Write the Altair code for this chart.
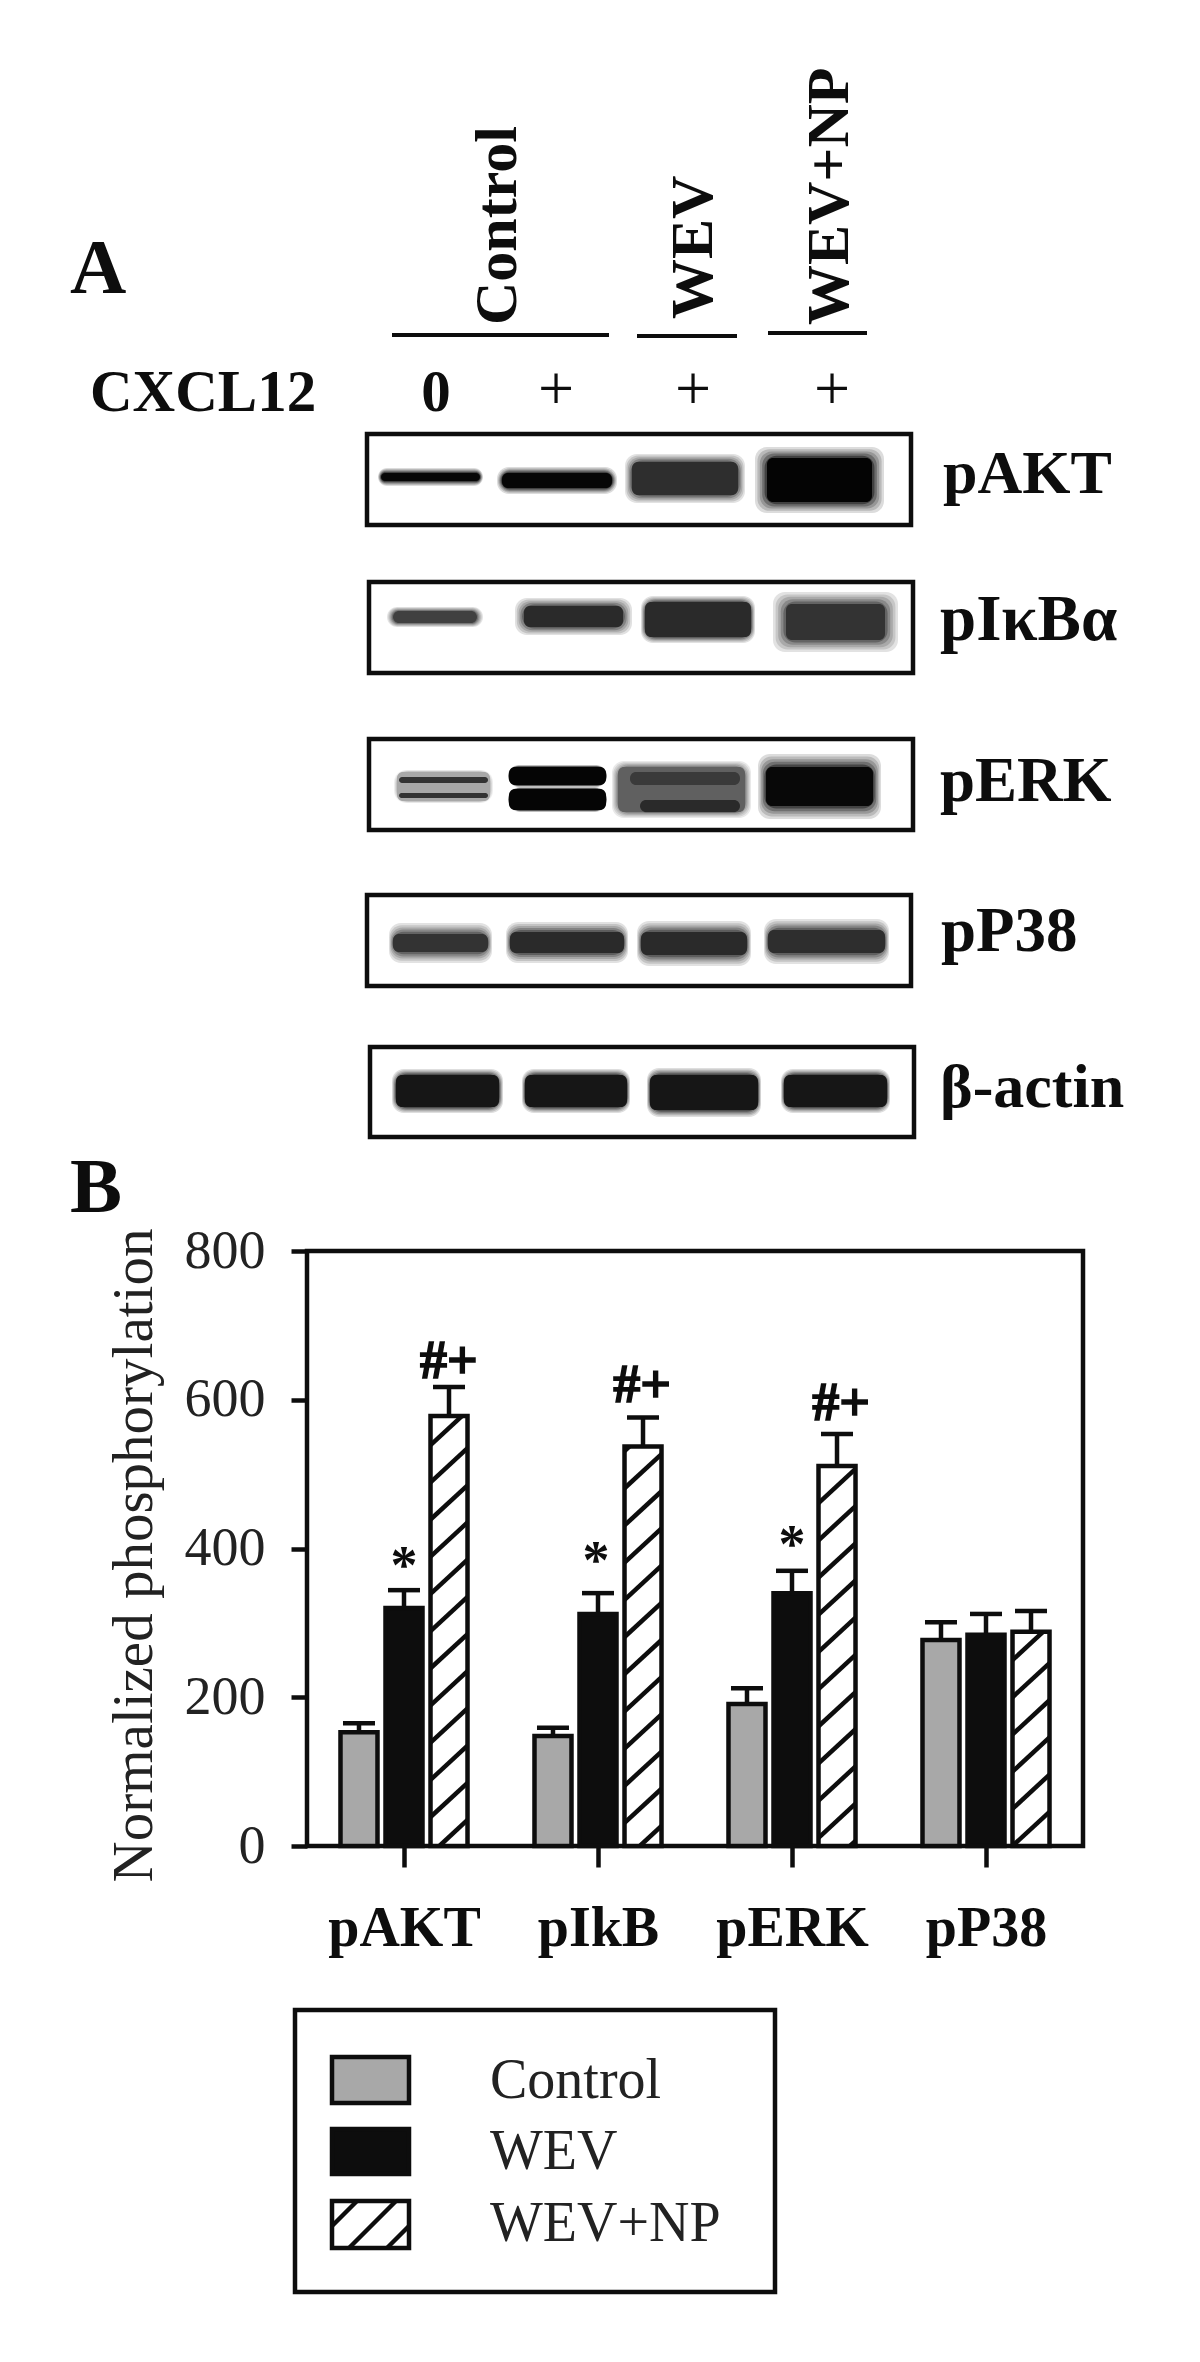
import json
import altair as alt
import pandas as pd

# ---------- panel B values ----------
groups = ["pAKT", "pIkB", "pERK", "pP38"]
series = ["Control", "WEV", "WEV+NP"]
control = [153, 148, 191, 277]
wev = [320, 312, 340, 284]
wev_np = [578, 537, 511, 288]
control_top = [165, 159, 212, 301]
wev_top = [344, 340, 370, 312]
wev_np_top = [617, 576, 554, 316]
hatch_start = [39, 31, 11, 0]
star_pos = [0.50, 1.49, 2.50]
star_y = [354, 361, 382]
mark_pos = [0.732, 1.727, 2.753]
mark_y = [629, 597, 573]

# ---------- panel A / page furniture, in picture pixels ----------
blot_names = ["pAKT", "pI\u03baB\u03b1", "pERK", "pP38", "\u03b2-actin"]
blot_left = [367, 369, 369, 367, 370]
blot_right = [911, 913, 913, 911, 914]
blot_top = [434, 582, 739, 895, 1047]
blot_bottom = [525, 673, 830, 986, 1137]
blot_label_x = [943, 940, 940, 941, 940]
blot_label_y = [493, 640, 801, 951, 1107]
blot_label_size = [62, 65, 63, 63, 62]

# x0, x1, y0, y1, core grey, halo x, halo y
bands = [
    (381, 480, 473, 481, "#060606", 3, 5), (502, 612, 473, 488, "#060606", 5, 6),
    (632, 738, 462, 495, "#2e2e2e", 7, 8), (767, 872, 458, 502, "#040404", 12, 11),
    (393, 477, 611, 623, "#404040", 6, 4), (524, 623, 606, 627, "#2a2a2a", 9, 8),
    (645, 751, 602, 637, "#2a2a2a", 4, 6), (786, 885, 604, 640, "#333333", 13, 12),
    (397, 490, 772, 801, "#a8a8a8", 3, 2), (399, 488, 777, 783, "#333333", 1, 1),
    (399, 488, 793, 798, "#333333", 1, 1),
    (509, 606, 767, 785, "#050505", 1, 2), (509, 606, 789, 810, "#050505", 1, 2),
    (618, 745, 767, 812, "#606060", 6, 6), (630, 740, 772, 785, "#3a3a3a", 3, 2),
    (640, 740, 800, 812, "#2a2a2a", 3, 2), (766, 873, 767, 806, "#080808", 8, 13),
    (393, 488, 934, 952, "#333333", 4, 11), (510, 624, 932, 953, "#2a2a2a", 4, 10),
    (641, 747, 932, 955, "#2a2a2a", 4, 11), (768, 885, 930, 953, "#2e2e2e", 4, 11),
    (396, 499, 1075, 1107, "#161616", 4, 6), (525, 627, 1075, 1107, "#161616", 3, 6),
    (650, 758, 1075, 1110, "#161616", 3, 7), (784, 887, 1075, 1107, "#161616", 3, 6),
]

head_lines = [(392, 609, 335), (637, 737, 336), (768, 867, 333)]
head_names = ["Control", "WEV", "WEV+NP"]
head_x = [516, 712, 848]
head_y = [325, 319, 325]
sign_names = ["0", "+", "+", "+"]
sign_x = [436, 556, 693, 832]

legend_box = (295, 775, 2010, 2292)
legend_swatch_x = (332, 409)
legend_swatch_y = [(2057, 2103), (2129, 2174), (2201, 2248)]
legend_text_y = [2098, 2169, 2241]
legend_text_x = 490
legend_hatch_start = [-22, 17, 55]

# ---------- geometry of the plot area ----------
LEFT, RIGHT, TOP, BOTTOM = 307, 1083, 1251, 1846
W, H = RIGHT - LEFT, BOTTOM - TOP
SERIF = "Liberation Serif"
BLACK = "#0d0d0d"
GREY = "#a8a8a8"
LW = 4.5

offsets = [-0.232, 0.0, 0.232]
half = 18.5 / 194
cap = 16 / 194
rise = 46
spacing = 50

bx = alt.Scale(domain=[0, 4], nice=False, zero=False, padding=0)
by = alt.Scale(domain=[0, 800], nice=False, zero=False, padding=0)
px = alt.Scale(domain=[LEFT, RIGHT], nice=False, zero=False)
py = alt.Scale(domain=[BOTTOM, TOP], nice=False, zero=False)


def X(f, **k):
    return alt.X(f, type="quantitative", scale=bx, axis=None, **k)


def Y(f, **k):
    return alt.Y(f, type="quantitative", scale=by, axis=None, **k)


def PX(f):
    return alt.X(f, type="quantitative", scale=px, axis=None)


def PY(f):
    return alt.Y(f, type="quantitative", scale=py, axis=None)


# bar table
rows = []
for s, vals, tops, off in zip(series, (control, wev, wev_np), (control_top, wev_top, wev_np_top), offsets):
    for i, g in enumerate(groups):
        c = i + 0.5 + off
        rows.append(dict(group=g, series=s, c=c, x0=c - half, x1=c + half, v=vals[i], top=tops[i],
                         c0=c - cap, c1=c + cap, base=0))
bars = pd.DataFrame(rows)

# hatch segments inside each WEV+NP bar
seg = []
for i, v in enumerate(wev_np):
    c = i + 0.5 + offsets[2]
    x0, x1 = c - half, c + half
    y = hatch_start[i] - spacing
    while y < v:
        a, b = 0.0, 1.0
        if y < 0:
            a = -y / rise
        if y + rise > v:
            b = (v - y) / rise
        if a < b:
            seg.append(dict(x=x0 + a * (x1 - x0), x2=x0 + b * (x1 - x0), y=y + a * rise, y2=y + b * rise))
        y += spacing
seg = pd.DataFrame(seg)

stars = pd.DataFrame(dict(x=star_pos, y=star_y, t=["*"] * 3))
marks = pd.DataFrame(dict(x=mark_pos, y=mark_y, t=["#+"] * 3))


# ---------- bands: nested rounded rectangles for soft edges ----------
def mix(col, white):
    v = int(col[1:3], 16)
    g = round(v + (255 - v) * white)
    return "#%02x%02x%02x" % (g, g, g)


tiers = [(1.0, 0.86), (0.8, 0.72), (0.6, 0.58), (0.4, 0.42), (0.2, 0.24)]
blot_layers = []
for frac, white in tiers:
    d = pd.DataFrame([dict(x=b[0] - b[5] * frac, x2=b[1] + b[5] * frac, y=b[2] - b[6] * frac, y2=b[3] + b[6] * frac,
                           col=mix(b[4], white)) for b in bands])
    blot_layers.append(alt.Chart(d).mark_rect(cornerRadius=12).encode(
        x=PX("x"), x2="x2", y=PY("y"), y2="y2", fill=alt.Fill("col:N", scale=None)))
core = pd.DataFrame([dict(x=b[0], x2=b[1], y=b[2], y2=b[3], col=b[4]) for b in bands])
blot_layers.append(alt.Chart(core).mark_rect(cornerRadius=6).encode(
    x=PX("x"), x2="x2", y=PY("y"), y2="y2", fill=alt.Fill("col:N", scale=None)))

frames = pd.DataFrame(dict(x=blot_left, x2=blot_right, y=blot_top, y2=blot_bottom))
frame_layer = alt.Chart(frames).mark_rect(fillOpacity=0, stroke=BLACK, strokeWidth=LW).encode(
    x=PX("x"), x2="x2", y=PY("y"), y2="y2")


def txt(df, size, weight="bold", align="left", angle=None, color=BLACK):
    kw = dict(font=SERIF, fontSize=size, fontWeight=weight, align=align, baseline="alphabetic", color=color)
    if angle is not None:
        kw["angle"] = angle
    return alt.Chart(df).mark_text(**kw).encode(x=PX("x"), y=PY("y"), text="t:N")


blot_text = alt.Chart(pd.DataFrame(dict(x=blot_label_x, y=blot_label_y, t=blot_names, s=blot_label_size))).mark_text(
    font=SERIF, fontWeight="bold", align="left", baseline="alphabetic", color=BLACK).encode(
    x=PX("x"), y=PY("y"), text="t:N", size=alt.Size("s:Q", scale=None, legend=None))
head_text = txt(pd.DataFrame(dict(x=head_x, y=head_y, t=head_names)), 60, angle=270)
head_rule = alt.Chart(pd.DataFrame(head_lines, columns=["x", "x2", "y"])).mark_rule(color=BLACK, strokeWidth=4).encode(
    x=PX("x"), x2="x2", y=PY("y"))
panel_text = txt(pd.DataFrame(dict(x=[70, 70], y=[293, 1212], t=["A", "B"])), 78)
cx_text = txt(pd.DataFrame(dict(x=[90], y=[411], t=["CXCL12"])), 59)
zero_text = txt(pd.DataFrame(dict(x=sign_x[:1], y=[411], t=sign_names[:1])), 59, align="center")
plus_text = txt(pd.DataFrame(dict(x=sign_x[1:], y=[410] * 3, t=sign_names[1:])), 64, weight="normal", align="center")

# ---------- legend ----------
lx0, lx1, ly0, ly1 = legend_box
legend_frame = alt.Chart(pd.DataFrame([dict(x=lx0, x2=lx1, y=ly0, y2=ly1)])).mark_rect(
    fillOpacity=0, stroke=BLACK, strokeWidth=LW).encode(x=PX("x"), x2="x2", y=PY("y"), y2="y2")
sw = pd.DataFrame([dict(x=legend_swatch_x[0], x2=legend_swatch_x[1], y=a, y2=b, s=s)
                   for (a, b), s in zip(legend_swatch_y, series)])
swatch = alt.Chart(sw).mark_rect(stroke=BLACK, strokeWidth=LW).encode(
    x=PX("x"), x2="x2", y=PY("y"), y2="y2",
    fill=alt.Fill("s:N", scale=alt.Scale(domain=series, range=[GREY, BLACK, "#ffffff"]), legend=None))
sx0, sx1 = legend_swatch_x
sy0, sy1 = legend_swatch_y[2]
lseg = []
for off in legend_hatch_start:
    start = sx0 + off
    a = max(start, sx0)
    b = min(start + (sy1 - sy0), sx1)
    lseg.append(dict(x=a, x2=b, y=sy1 - (a - start), y2=sy1 - (b - start)))
legend_hatch = alt.Chart(pd.DataFrame(lseg)).mark_rule(color=BLACK, strokeWidth=LW).encode(
    x=PX("x"), x2="x2", y=PY("y"), y2="y2")
legend_text = txt(pd.DataFrame(dict(x=[legend_text_x] * 3, y=legend_text_y, t=series)), 56, weight="normal", color="#222222")

# ---------- panel B ----------
label_expr = "%s[floor(datum.value)]" % json.dumps(groups)
axis_layer = alt.Chart(bars).mark_rect(opacity=0).encode(
    x=alt.X("x0:Q", scale=bx, axis=alt.Axis(
        values=[0.5, 1.5, 2.5, 3.5], labelExpr=label_expr, title=None, domain=False, grid=False,
        tickSize=21, tickWidth=LW, tickColor=BLACK, labelFont=SERIF, labelFontSize=56, labelFontWeight="bold",
        labelColor=BLACK, labelPadding=34, labelOverlap=False, labelFlush=False)),
    x2="x1",
    y=alt.Y("base:Q", scale=by, axis=alt.Axis(
        values=[0, 200, 400, 600, 800], title="Normalized phosphorylation", domain=False, grid=False,
        tickSize=16, tickWidth=LW, tickColor=BLACK, labelFont=SERIF, labelFontSize=54, labelFontWeight="normal",
        labelColor="#222222", labelPadding=26, labelOverlap=False, labelFlush=False,
        titleFont=SERIF, titleFontSize=57, titleFontWeight="normal", titleColor="#222222",
        titleX=-173, titleY=304, titleAnchor="middle", titleBaseline="middle")),
    y2="v",
)
err_stem = alt.Chart(bars).mark_rule(color=BLACK, strokeWidth=LW).encode(x=X("c"), y=Y("v"), y2="top")
err_cap = alt.Chart(bars).mark_rule(color=BLACK, strokeWidth=LW).encode(x=X("c0"), x2="c1", y=Y("top"))
bar_layer = alt.Chart(bars).mark_rect(stroke=BLACK, strokeWidth=LW).encode(
    x=X("x0"), x2="x1", y=Y("base"), y2="v",
    fill=alt.Fill("series:N", scale=alt.Scale(domain=series, range=[GREY, BLACK, "#ffffff"]), legend=None))
hatch_layer = alt.Chart(seg).mark_rule(color=BLACK, strokeWidth=LW).encode(
    x=X("x"), x2="x2", y=Y("y"), y2="y2")


def note(df, heavy=0):
    return alt.Chart(df).mark_text(font=SERIF, fontSize=54, fontWeight="bold", baseline="alphabetic",
                                   align="center", color=BLACK, stroke=BLACK, strokeWidth=heavy).encode(
        x=X("x"), y=Y("y"), text="t:N")


pad = dict(left=LEFT - 8, top=TOP - 8, right=1184 - (LEFT - 8) - W, bottom=2346 - (TOP - 8) - H)

chart = alt.layer(
    axis_layer, err_stem, err_cap, bar_layer, hatch_layer, note(stars), note(marks, 1.6),
    *blot_layers, frame_layer, blot_text, head_text, head_rule, panel_text, cx_text, zero_text, plus_text,
    legend_frame, swatch, legend_hatch, legend_text,
).resolve_scale(x="independent", y="independent", fill="independent").properties(
    width=W, height=H, padding=pad, autosize=alt.AutoSizeParams(type="none"), background="white",
).configure_view(stroke=BLACK, strokeWidth=LW)

chart.save("out.html", embed_options={"renderer": "svg", "actions": False})
